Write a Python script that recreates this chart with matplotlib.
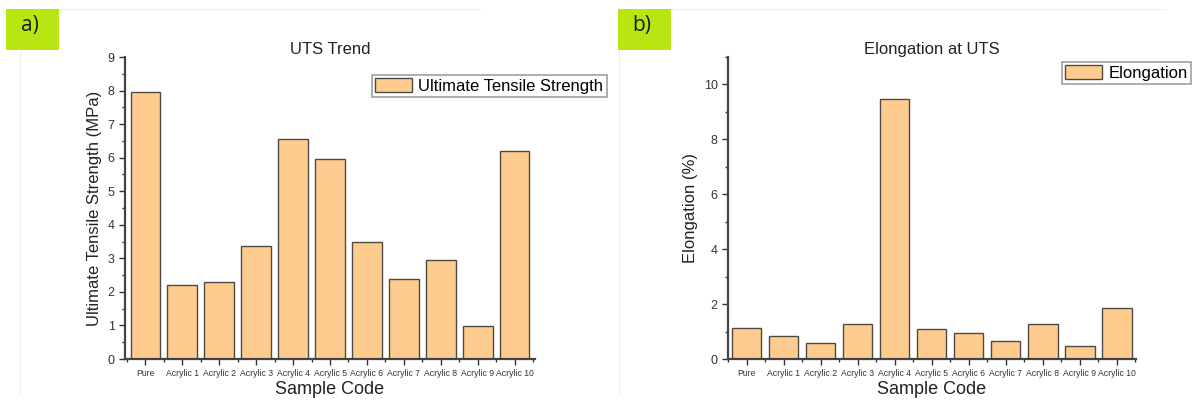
import matplotlib.pyplot as plt
from matplotlib.patches import Rectangle
from matplotlib.ticker import MultipleLocator

plt.rcParams['font.family'] = ['Liberation Sans', 'DejaVu Sans']

samples = ['Pure', 'Acrylic 1', 'Acrylic 2', 'Acrylic 3', 'Acrylic 4', 'Acrylic 5',
           'Acrylic 6', 'Acrylic 7', 'Acrylic 8', 'Acrylic 9', 'Acrylic 10']
uts = [7.96, 2.20, 2.28, 3.38, 6.56, 5.97, 3.50, 2.37, 2.95, 0.98, 6.21]
elongation = [1.12, 0.85, 0.57, 1.26, 9.47, 1.09, 0.95, 0.64, 1.26, 0.47, 1.84]

W, H = 1197, 401
bar_color = '#FFCC8F'
edge = '#4d4a45'
green = '#B8E612'

fig = plt.figure(figsize=(W / 100, H / 100), dpi=100)


def px(l, b, r, t):
    return [l / W, 1 - b / H, (r - l) / W, (b - t) / H]


def panel(rect, values, title, ylabel, legend_label, ylim, major, minor, xlim, legend_box):
    ax = fig.add_axes(px(*rect))
    x = list(range(len(samples)))
    ax.bar(x, values, width=0.8, color=bar_color, edgecolor=edge, linewidth=1.0,
           label=legend_label)
    ax.set_xlim(*xlim)
    ax.set_ylim(*ylim)
    ax.set_xticks(x)
    ax.set_xticklabels(samples, fontsize=6.2, color='#333333')
    ax.set_xticks([i + 0.5 for i in range(-1, len(samples))], minor=True)
    ax.yaxis.set_major_locator(MultipleLocator(major))
    ax.yaxis.set_minor_locator(MultipleLocator(minor))
    ax.tick_params(axis='y', labelsize=9, colors='#333333', length=4, width=1)
    ax.tick_params(axis='x', length=4, width=1, colors='#333333')
    ax.tick_params(which='minor', length=2.5, width=1, colors='#333333')
    for s in ['top', 'right']:
        ax.spines[s].set_visible(False)
    for s in ['left', 'bottom']:
        ax.spines[s].set_linewidth(1.6)
        ax.spines[s].set_color('#444444')
    ax.set_title(title, fontsize=12, color='#222222', pad=2)
    ax.set_xlabel('Sample Code', fontsize=13, color='#222222', labelpad=2)
    ax.set_ylabel(ylabel, fontsize=12, color='#222222', labelpad=4)
    l, b, r, t = legend_box
    leg = ax.legend(loc='center', bbox_to_anchor=((l + r) / 2 / W, 1 - (b + t) / 2 / H),
                    bbox_transform=fig.transFigure, fontsize=12, fancybox=False,
                    framealpha=1, edgecolor='#a0a0a0', borderpad=0.2, handlelength=2.2,
                    handleheight=0.9, handletextpad=0.4)
    leg.get_frame().set_linewidth(1.2)
    return ax


panel((125, 359, 535, 57), uts, 'UTS Trend', 'Ultimate Tensile Strength (MPa)',
      'Ultimate Tensile Strength', (0, 9), 1, 0.5, (-0.55, 10.55), (369, 97, 609, 75))
panel((728, 359, 1136, 57), elongation, 'Elongation at UTS', 'Elongation (%)',
      'Elongation', (0, 11), 2, 1, (-0.48, 10.52), (1063, 84, 1190, 62))

# faint panel frames
for x0, x1, gx in [(20, 480, 59), (619, 1165, 671)]:
    fig.add_artist(plt.Line2D([gx / W, x1 / W], [1 - 9 / H, 1 - 9 / H],
                              color='#eeeeee', lw=0.8))
    fig.add_artist(plt.Line2D([x0 / W, x0 / W], [1 - 50 / H, 0.02],
                              color='#eeeeee', lw=0.8))

# panel tags
for l, r, tag in [(6, 59, 'a)'), (618, 671, 'b)')]:
    fig.add_artist(Rectangle((l / W, 1 - 50 / H), (r - l) / W, 41 / H,
                             transform=fig.transFigure, color=green, lw=0))
    fig.text((l + r) / 2 / W - 0.002, 1 - 25 / H, tag, fontsize=15, ha='center',
             va='center', color='#1a1a1a', family=['Open Sans', 'DejaVu Sans'])

fig.savefig('out.png', dpi=100)
